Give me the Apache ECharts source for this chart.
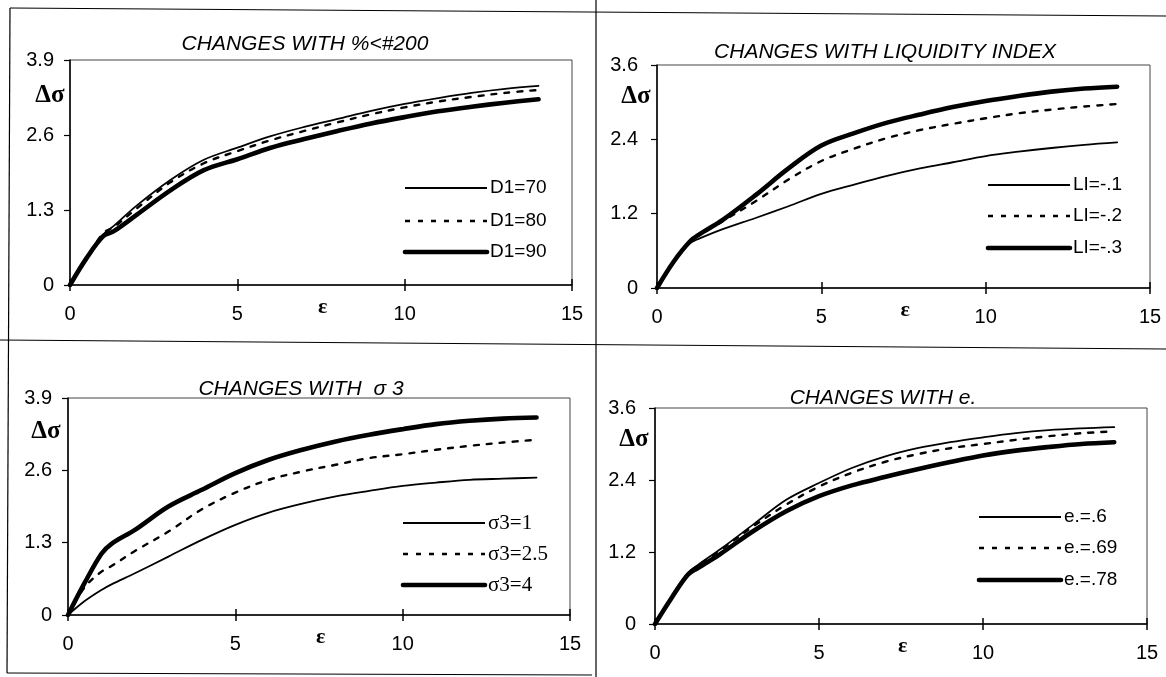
<!DOCTYPE html>
<html><head><meta charset="utf-8">
<script src="https://cdn.jsdelivr.net/npm/echarts@6/dist/echarts.min.js"></script>
<style>html,body{margin:0;padding:0;background:#fff}#c{width:1166px;height:677px}</style>
</head><body><div id="c"></div>
<script>
// ---------- data ----------
const xValues = [0,0.5,1,1.3,2,3,4,5,6,7,8,9,10,11,12,13,14];
const xTicks = [0,5,10,15];

const titleP1 = 'CHANGES WITH %<#200';
const namesP1 = ['D1=70','D1=80','D1=90'];
const d1_70 = [0,0.48,0.88,1.02,1.38,1.82,2.17,2.38,2.58,2.74,2.88,3.02,3.14,3.24,3.33,3.40,3.45];
const d1_80 = [0,0.48,0.90,1.00,1.33,1.78,2.11,2.32,2.51,2.67,2.82,2.96,3.08,3.18,3.26,3.33,3.38];
const d1_90 = [0,0.47,0.85,0.93,1.22,1.64,1.99,2.18,2.38,2.53,2.67,2.80,2.91,3.01,3.09,3.16,3.22];
const yTicksP1 = [0,1.3,2.6,3.9];

const titleP2 = 'CHANGES WITH LIQUIDITY INDEX';
const namesP2 = ['LI=-.1','LI=-.2','LI=-.3'];
const li_1 = [0,0.42,0.72,0.80,0.95,1.13,1.32,1.52,1.67,1.81,1.93,2.03,2.13,2.20,2.26,2.31,2.35];
const li_2 = [0,0.42,0.75,0.86,1.08,1.40,1.75,2.05,2.25,2.42,2.55,2.65,2.74,2.82,2.88,2.93,2.97];
const li_3 = [0,0.42,0.75,0.87,1.10,1.50,1.93,2.30,2.50,2.67,2.80,2.92,3.02,3.10,3.17,3.22,3.25];
const yTicksP2 = [0,1.2,2.4,3.6];

const titleP3 = 'CHANGES WITH  \u03c3 3';
const namesP3 = ['\u03c33=1','\u03c33=2.5','\u03c33=4'];
const s3_1  = [0,0.25,0.45,0.55,0.75,1.05,1.35,1.62,1.84,2.00,2.13,2.23,2.32,2.38,2.43,2.45,2.47];
const s3_25 = [0,0.50,0.78,0.88,1.15,1.50,1.90,2.20,2.43,2.58,2.70,2.82,2.89,2.97,3.04,3.10,3.15];
const s3_4  = [0,0.58,1.10,1.28,1.53,1.95,2.25,2.55,2.79,2.97,3.12,3.24,3.34,3.43,3.49,3.53,3.55];
const yTicksP3 = [0,1.3,2.6,3.9];

const titleP4 = 'CHANGES WITH e.';
const namesP4 = ['e.=.6','e.=.69','e.=.78'];
const e_60 = [0,0.44,0.85,0.98,1.25,1.66,2.07,2.35,2.60,2.79,2.93,3.03,3.11,3.18,3.23,3.26,3.28];
const e_69 = [0,0.44,0.84,0.97,1.23,1.63,1.99,2.29,2.52,2.70,2.83,2.93,3.00,3.07,3.13,3.18,3.21];
const e_78 = [0,0.43,0.82,0.93,1.17,1.55,1.88,2.13,2.31,2.45,2.58,2.70,2.81,2.89,2.95,3.00,3.03];
const yTicksP4 = [0,1.2,2.4,3.6];

// ---------- layout ----------
const panels = [
  {title:titleP1, names:namesP1, data:[d1_70,d1_80,d1_90], yt:yTicksP1,
   grid:{left:70, top:60, width:502, height:225}, titlePos:[305,44],
   legend:{x1:405, x2:487, rows:[188,221,252], serif:false}, dsPos:[50,96], yMargin:16},
  {title:titleP2, names:namesP2, data:[li_1,li_2,li_3], yt:yTicksP2,
   grid:{left:657, top:65, width:493, height:223}, titlePos:[885,52],
   legend:{x1:988, x2:1070, rows:[185,216,248], serif:false}, dsPos:[636,97], yMargin:19},
  {title:titleP3, names:namesP3, data:[s3_1,s3_25,s3_4], yt:yTicksP3,
   grid:{left:68, top:398, width:502, height:217}, titlePos:[301,389],
   legend:{x1:403, x2:485, rows:[523,554,585], serif:true}, dsPos:[46,432], yMargin:16},
  {title:titleP4, names:namesP4, data:[e_60,e_69,e_78], yt:yTicksP4,
   grid:{left:655, top:408, width:492, height:216}, titlePos:[883,398],
   legend:{x1:979, x2:1061, rows:[517,548,580], serif:false}, dsPos:[634,440], yMargin:19}
];

const styles = [
  {width:1.8, type:'solid', dash:null},
  {width:2.4, type:[5,8], dash:[5,8]},
  {width:4.6, type:'solid', dash:null}
];

const SANS = '"Liberation Sans", Arial, sans-serif';
const SERIF = '"Liberation Serif", "Times New Roman", serif';

const grids=[], xAxes=[], yAxes=[], series=[], graphics=[];
panels.forEach((p,i)=>{
  grids.push(Object.assign({show:true, borderColor:'#444', borderWidth:1, backgroundColor:'transparent'}, p.grid));
  const yMax = p.yt[p.yt.length-1];
  const yInt = p.yt[1];
  xAxes.push({gridIndex:i, type:'value', position:'bottom', min:xTicks[0], max:xTicks[xTicks.length-1], interval:xTicks[1]-xTicks[0],
    axisLine:{show:true, onZero:false, lineStyle:{color:'#000', width:1.5}},
    axisTick:{show:true, length:6, lineStyle:{color:'#000', width:1.5}},
    axisLabel:{margin:19, fontSize:20, color:'#000', fontFamily:SANS, formatter:v=>String(v)},
    splitLine:{show:false}});
  yAxes.push({gridIndex:i, type:'value', min:0, max:yMax, interval:yInt,
    axisLine:{show:true, onZero:false, lineStyle:{color:'#000', width:1.5}},
    axisTick:{show:true, length:6, lineStyle:{color:'#000', width:1.2}},
    axisLabel:{margin:p.yMargin, fontSize:20, color:'#000', fontFamily:SANS,
      formatter:v=> (Math.abs(v)<1e-9 ? '0' : (Math.round(v*10)/10).toFixed(1))},
    splitLine:{show:false}});
  p.names.forEach((n,k)=>{
    series.push({type:'line', name:n, xAxisIndex:i, yAxisIndex:i, symbol:'none',
      smooth:0.35, silent:true, animation:false,
      lineStyle:{color:'#000', width:styles[k].width, type:styles[k].type, cap:'round', join:'round'},
      data: xValues.map((x,j)=>[x, p.data[k][j]])});
    const ry = p.legend.rows[k];
    graphics.push({type:'line', silent:true,
      shape:{x1:p.legend.x1, y1:ry, x2:p.legend.x2, y2:ry},
      style:{stroke:'#000', lineWidth:styles[k].width, lineDash:styles[k].dash, lineCap:k===2?'round':'butt'}});
    graphics.push({type:'text', silent:true, x:p.legend.x2+3, y:ry,
      style:{text:n, fill:'#000', font:(p.legend.serif?'21px ':'19px ')+(p.legend.serif?SERIF:SANS),
        textAlign:'left', textVerticalAlign:'middle'}});
  });
  graphics.push({type:'text', x:p.titlePos[0], y:p.titlePos[1],
    style:{text:p.title, fill:'#000', font:'italic 21px '+SANS, textAlign:'center', textVerticalAlign:'middle'}});
  graphics.push({type:'text', x:p.dsPos[0], y:p.dsPos[1],
    style:{text:'\u0394\u03c3', fill:'#000', font:'bold 25px '+SERIF, textAlign:'center', textVerticalAlign:'middle'}});
  const g = p.grid;
  graphics.push({type:'text', x:g.left + g.width*7.55/15, y:g.top + g.height + 22,
    style:{text:'\u03b5', fill:'#000', font:'bold 22px '+SERIF, textAlign:'center', textVerticalAlign:'middle'}});
});
// inner halves of the crossing x ticks
panels.forEach((p,i)=>{
  xAxes.push({gridIndex:i, type:'value', position:'bottom', offset:0, min:xTicks[0], max:xTicks[xTicks.length-1], interval:xTicks[1]-xTicks[0],
    axisLine:{show:false}, axisTick:{show:true, inside:true, length:6, lineStyle:{color:'#000', width:1.5}},
    axisLabel:{show:false}, splitLine:{show:false}});
});

// frame & dividers
const frame = [
  [[10,8],[1166,16]],
  [[10,8],[7,673]],
  [[7,673],[592,675]],
  [[596,0],[596,677]],
  [[0,340],[1166,349]]
];
frame.forEach(s=>{
  graphics.push({type:'line', shape:{x1:s[0][0],y1:s[0][1],x2:s[1][0],y2:s[1][1]},
    style:{stroke:'#000', lineWidth:1.2}, silent:true});
});

const chart = echarts.init(document.getElementById('c'), null, {renderer:'canvas'});
chart.setOption({
  animation:false,
  backgroundColor:'#fff',
  grid:grids, xAxis:xAxes, yAxis:yAxes, series:series,
  graphic:graphics
});
</script></body></html>
